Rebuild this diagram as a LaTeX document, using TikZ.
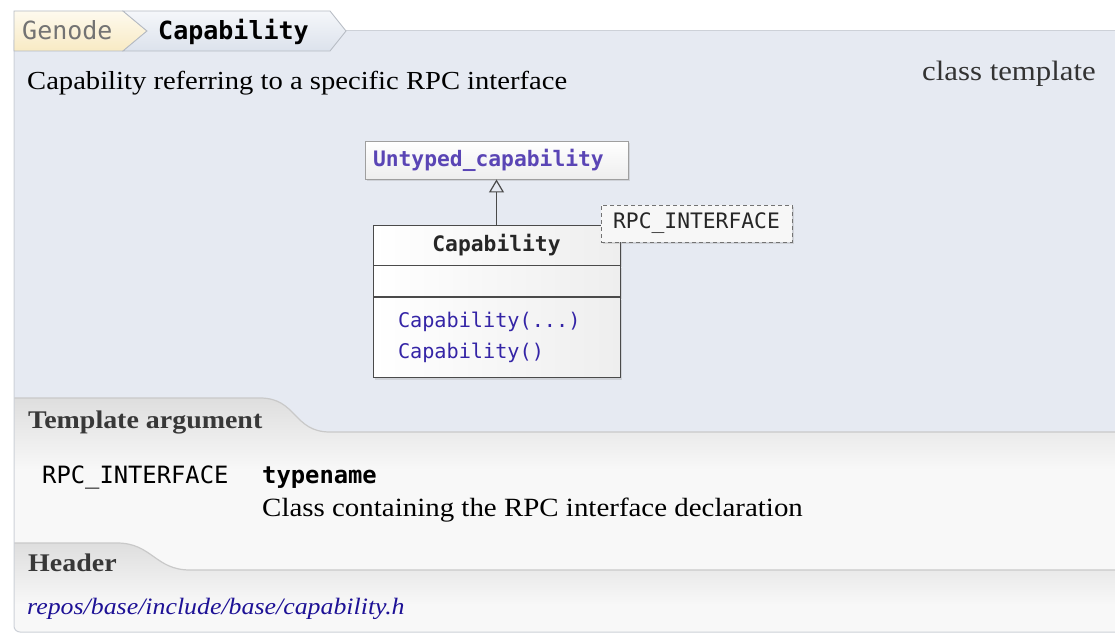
\documentclass[tikz,border=0pt]{standalone}
\usepackage{fontspec}
\setmainfont[FakeStretch=1.1]{Liberation Serif}
\setmonofont{DejaVu Sans Mono}
\usetikzlibrary{arrows.meta,positioning,shadows}
\definecolor{panel}{HTML}{E6EAF2}
\definecolor{panelline}{HTML}{CDD1D8}
\definecolor{crumbline}{HTML}{B5BAC2}
\definecolor{gentop}{HTML}{FEFAEE}
\definecolor{genbot}{HTML}{F8EAC4}
\definecolor{captop}{HTML}{F5F7FA}
\definecolor{capbot}{HTML}{DCE2EC}
\definecolor{sectop}{HTML}{DEDEDE}
\definecolor{secbot}{HTML}{F8F8F8}
\definecolor{secline}{HTML}{C9C9C9}
\definecolor{umlline}{HTML}{4A4A4A}
\definecolor{boxbot}{HTML}{EEEEEE}
\definecolor{supertext}{HTML}{5A45B5}
\definecolor{optext}{HTML}{3424A6}
\definecolor{linktext}{HTML}{1E1296}
\newcommand{\fbody}{\fontsize{26}{31}\selectfont}
\newcommand{\fcrumb}{\ttfamily\fontsize{25}{30}\selectfont}
\newcommand{\fuml}{\ttfamily\fontsize{21.3}{31}\selectfont}
\newcommand{\fops}{\ttfamily\fontsize{20.2}{31}\selectfont}
\newcommand{\farg}{\ttfamily\fontsize{23.8}{31}\selectfont}
\begin{document}
\begin{tikzpicture}[x=1pt,y=-1pt,>=Latex,font=\fbody,
shadowed/.style={drop shadow={shadow xshift=2pt,shadow yshift=-2pt,opacity=.22}},
supbox/.style={draw=gray!75,line width=0.9pt,top color=white,bottom color=boxbot,shadowed,
  minimum width=263pt,minimum height=38pt,text width=247pt,inner xsep=8pt,align=left,
  font=\fuml\bfseries,text=supertext},
clsbox/.style={draw=umlline,line width=0.9pt,left color=white,right color=boxbot,shadowed,
  minimum width=247pt,inner sep=0pt,font=\fuml,text=black!85},
parbox/.style={draw=black!55,dashed,dash pattern=on 4pt off 3pt,line width=1pt,fill=white!97!black,
  shadowed,minimum width=191pt,minimum height=37pt,font=\fuml,text=black!85},
gen/.style={-{Triangle[open,width=15pt,length=13pt]},line width=1.2pt,draw=umlline},
lbl/.style={anchor=base west,inner sep=0pt}]
\useasboundingbox (0,0) rectangle (1115,634);
% panel and sections
\begin{scope}
\clip[rounded corners=6pt] (14,0) rectangle (1140,632);
\fill[panel] (14,31) rectangle (1115,634);
\begin{scope}
\clip (14,398) -- (260,398) .. controls (297,398) and (293,432) .. (330,432) -- (1115,432) -- (1115,634) -- (14,634) -- cycle;
\shade[top color=sectop,bottom color=secbot] (14,398) rectangle (1115,470);
\fill[secbot] (14,469) rectangle (1115,634);
\end{scope}
\begin{scope}
\clip (14,543) -- (117,543) .. controls (152,543) and (155,570) .. (190,570) -- (1115,570) -- (1115,634) -- (14,634) -- cycle;
\shade[top color=sectop,bottom color=secbot] (14,543) rectangle (1115,605);
\fill[secbot] (14,604) rectangle (1115,634);
\end{scope}
\end{scope}
\draw[secline,line width=1.2pt] (14,398) -- (260,398) .. controls (297,398) and (293,432) .. (330,432) -- (1115,432);
\draw[secline,line width=1.2pt] (14,543) -- (117,543) .. controls (152,543) and (155,570) .. (190,570) -- (1115,570);
\draw[panelline,line width=1pt] (346,31) -- (1115,31);
\draw[panelline,line width=1pt,rounded corners=6pt] (14,40) -- (14,632) -- (1140,632);
% breadcrumb
\shade[top color=gentop,bottom color=genbot,draw=crumbline,line width=0.8pt]
  (14,11) -- (123,11) -- (147,31) -- (123,51) -- (14,51) -- cycle;
\shade[top color=captop,bottom color=capbot,draw=crumbline,line width=0.8pt]
  (123,11) -- (330,11) -- (346,31) -- (330,51) -- (123,51) -- (147,31) -- cycle;
\node[lbl,font=\fcrumb,text=black!55] (genode) at (22,40) {Genode};
\node[lbl,font=\fcrumb\bfseries] (crumb) at (158,40) {Capability};
% brief
\node[lbl] (brief) at (27,89) {Capability referring to a specific RPC interface};
\node[anchor=base east,inner sep=0pt,text=black!80,font=\fontsize{28}{31}\selectfont] (kind) at (1096,80) {class template};
% diagram
\node[supbox] (untyped) at (496.5,160) {Untyped\_capability};
\node[clsbox,minimum height=40pt,font=\fuml\bfseries] (cname) at (496.5,245) {Capability};
\node[clsbox,minimum height=31pt,below=0pt of cname] (cattr) {};
\node[clsbox,minimum height=80pt,below=0pt of cattr,text width=197pt,inner xsep=25pt,align=left,font=\fops,text=optext] (cops) {Capability(...)\\Capability()};
\node[parbox] (param) at (696.5,223.5) {RPC\_INTERFACE};
\draw[gen] (cname.north) -- (untyped.south);
% template argument
\node[lbl,font=\fontsize{25.4}{31}\selectfont\bfseries,text=black!78] (targ) at (28,428) {Template argument};
\node[lbl,font=\farg] (argname) at (42,483) {RPC\_INTERFACE};
\node[lbl,font=\farg\bfseries] (argtype) at (262,483) {typename};
\node[lbl,font=\fontsize{26.3}{31}\selectfont] (argdesc) at (262,516) {Class containing the RPC interface declaration};
% header
\node[lbl,font=\fontsize{25.4}{31}\selectfont\bfseries,text=black!78] (hdr) at (28,571) {Header};
\node[lbl,font=\fontsize{23.5}{31}\selectfont\itshape,text=linktext] (path) at (27,614) {repos/base/include/base/capability.h};
\end{tikzpicture}
\end{document}
